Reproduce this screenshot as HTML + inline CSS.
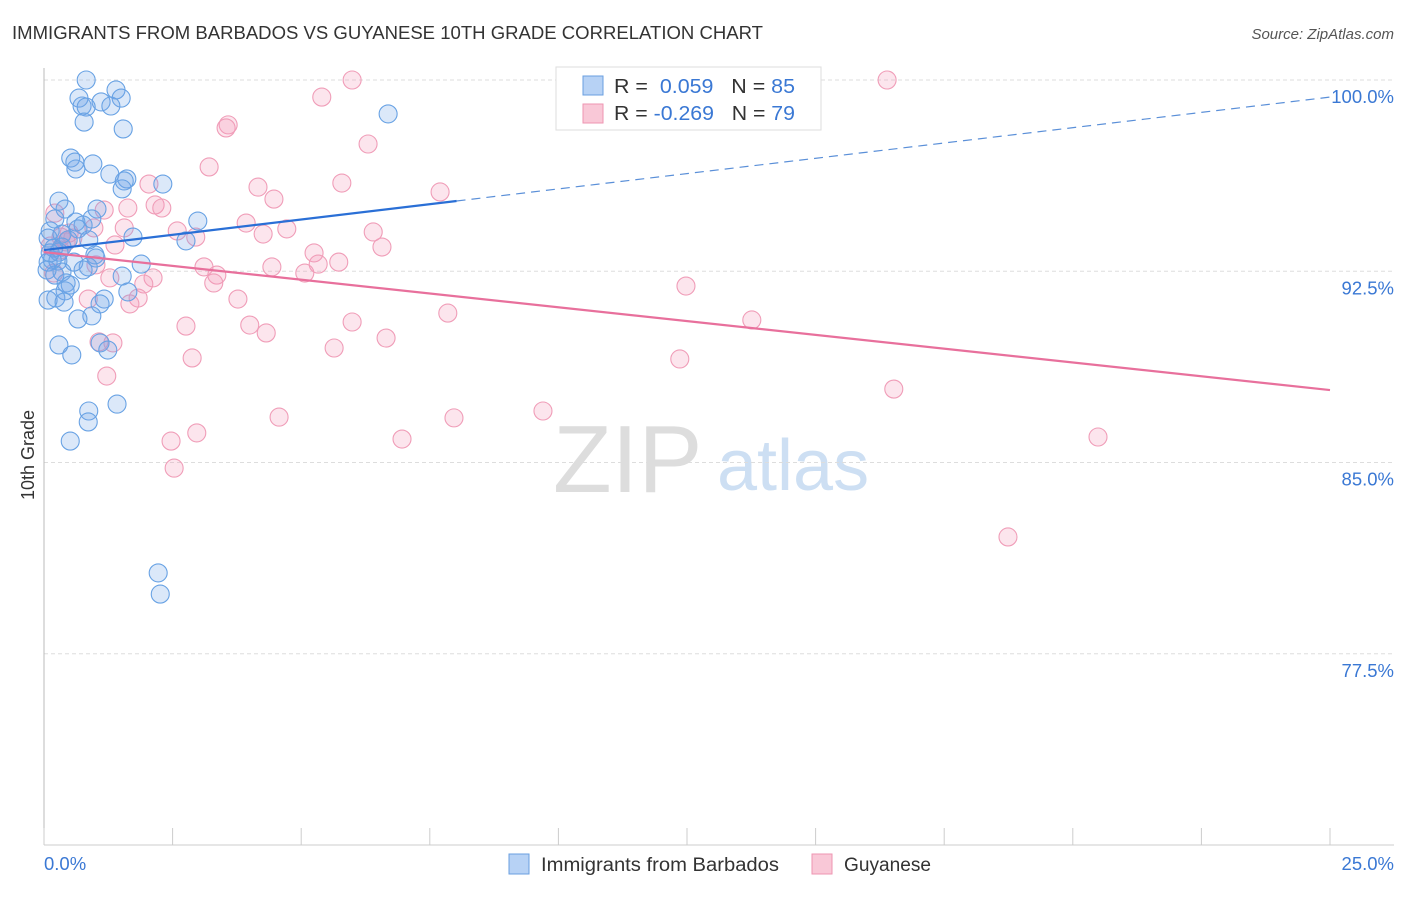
<!DOCTYPE html>
<html><head><meta charset="utf-8"><style>
body{margin:0;background:#fff;font-family:"Liberation Sans",sans-serif;}
svg text{font-family:"Liberation Sans",sans-serif;}
</style></head><body>
<svg width="1406" height="892" viewBox="0 0 1406 892">
<text x="12" y="39" font-size="18" fill="#333" textLength="751" lengthAdjust="spacingAndGlyphs">IMMIGRANTS FROM BARBADOS VS GUYANESE 10TH GRADE CORRELATION CHART</text>
<text x="1394" y="39" font-size="15" fill="#555" font-style="italic" text-anchor="end">Source: ZipAtlas.com</text>
<g>
<text x="553" y="492" font-size="96" font-family="Liberation Serif" fill="#ddd">ZIP</text>
<text x="717" y="490" font-size="72" fill="#cddff3">atlas</text>
</g>
<g id="grid"></g>
<g id="axes"></g>
<g id="marks"></g>
<g id="trends"></g>
<text transform="translate(34,455) rotate(-90)" font-size="18" fill="#333" text-anchor="middle">10th Grade</text>
<text x="44" y="870" font-size="18.5" fill="#3a78d4">0.0%</text>
<text x="1394" y="870" font-size="18.5" fill="#3a78d4" text-anchor="end">25.0%</text>
<g>
<rect x="556" y="67" width="265" height="63" fill="#fff" stroke="#ddd"/>
<rect x="583" y="76" width="20" height="19" fill="#b7d2f5" stroke="#6a9fe0"/>
<rect x="583" y="104" width="20" height="19" fill="#f9c8d7" stroke="#ee95b2"/>
<text x="614" y="93" font-size="20" fill="#333" textLength="181" lengthAdjust="spacingAndGlyphs">R = <tspan fill="#3a78d4">&#160;0.059</tspan>&#160;&#160;&#160;N = <tspan fill="#3a78d4">85</tspan></text>
<text x="614" y="120" font-size="20" fill="#333" textLength="181" lengthAdjust="spacingAndGlyphs">R = <tspan fill="#3a78d4">-0.269</tspan>&#160;&#160;&#160;N = <tspan fill="#3a78d4">79</tspan></text>
</g>
<g>
<rect x="509" y="854" width="20" height="20" fill="#b7d2f5" stroke="#6a9fe0"/>
<text x="541" y="871" font-size="19" fill="#333" textLength="238" lengthAdjust="spacingAndGlyphs">Immigrants from Barbados</text>
<rect x="812" y="854" width="20" height="20" fill="#f9c8d7" stroke="#ee95b2"/>
<text x="844" y="871" font-size="19" fill="#333" textLength="87" lengthAdjust="spacingAndGlyphs">Guyanese</text>
</g>
</svg>
<script>
const yTicks=[100,92.5,85,77.5];
const yTickLabels=["100.0%","92.5%","85.0%","77.5%"];
const xTicks=[0,2.5,5,7.5,10,12.5,15,17.5,20,22.5,25];
const blueX=[0.82,1.40,0.68,1.50,1.11,0.74,1.30,0.82,0.78,6.69,1.54,0.52,0.60,0.95,0.62,1.28,1.61,1.56,2.31,1.52,0.29,0.41,1.03,0.21,0.62,0.93,2.99,0.76,0.12,0.35,0.66,0.08,0.47,0.87,1.73,2.76,0.19,0.29,0.99,1.01,0.08,0.27,0.58,1.89,0.86,0.76,0.35,0.21,1.52,0.43,0.51,0.41,0.23,0.08,0.39,1.63,1.17,1.09,0.93,0.66,0.29,0.54,1.09,1.24,1.42,0.87,0.86,0.51,2.22,2.26,0.16,0.35,0.12,0.06];
const blueY=[100.0,99.61,99.29,99.29,99.14,98.98,98.98,98.94,98.35,98.67,98.08,96.94,96.78,96.71,96.51,96.31,96.12,96.04,95.92,95.73,95.25,94.94,94.94,94.55,94.43,94.55,94.47,94.31,94.08,93.96,94.16,93.80,93.73,93.73,93.84,93.69,93.41,93.25,93.14,93.02,92.86,92.90,92.86,92.78,92.67,92.55,92.47,92.35,92.31,92.04,91.96,91.73,91.45,91.37,91.29,91.69,91.41,91.22,90.75,90.63,89.61,89.22,89.69,89.41,87.29,87.02,86.59,85.84,80.67,79.84,92.94,93.45,93.22,92.55];
const pinkX=[5.99,16.39,5.40,3.58,3.54,6.30,3.21,4.16,2.04,5.79,7.70,4.47,2.16,2.29,1.63,1.17,0.21,3.93,2.59,1.56,0.97,0.49,0.33,2.95,4.26,4.72,6.40,1.38,6.57,5.25,5.73,5.33,3.11,1.01,0.19,4.43,5.07,3.36,3.30,2.12,1.28,1.94,0.86,1.83,1.67,3.77,2.76,4.00,4.32,5.99,7.85,12.48,13.76,1.34,1.07,6.65,5.64,2.88,12.36,1.22,16.52,4.57,7.97,9.70,2.47,2.97,6.96,2.53,20.49,18.74,0.31,0.56,0.43,0.12];
const pinkY=[100.0,100.0,99.33,98.24,98.12,97.49,96.59,95.80,95.92,95.96,95.61,95.33,95.10,94.98,94.98,94.90,94.78,94.39,94.08,94.20,94.20,94.00,93.84,93.84,93.96,94.16,94.04,93.53,93.45,93.22,92.86,92.78,92.67,92.75,92.43,92.67,92.43,92.35,92.04,92.24,92.24,92.00,91.41,91.45,91.22,91.41,90.35,90.39,90.08,90.51,90.86,91.92,90.59,89.69,89.73,89.88,89.49,89.10,89.06,88.39,87.88,86.78,86.75,87.02,85.84,86.16,85.92,84.78,86.00,82.08,93.33,93.80,93.65,93.49];
const blueTrend=[93.33,99.33];
const pinkTrend=[93.25,87.84];
const blueSolidEnd=8.02;

const NS="http://www.w3.org/2000/svg";
const X0=44,X1=1330,Y0=845,Y1=80;
function sx(v){return X0+(v-0)/25*(X1-X0);}
function sy(v){return Y0-(v-70)/30*(Y0-Y1);}
function mk(tag,attrs,parent){const e=document.createElementNS(NS,tag);for(const k in attrs)e.setAttribute(k,attrs[k]);document.getElementById(parent).appendChild(e);return e;}

yTicks.forEach((t,i)=>{
  const l=mk('line',{x1:X0,x2:1394,y1:sy(t),y2:sy(t),stroke:'#ddd','stroke-dasharray':'4,3'},'grid');
  
  
  const tx=mk('text',{x:1394,y:sy(t)+23,'font-size':18.5,fill:'#3a78d4','text-anchor':'end'},'grid');
  tx.textContent=yTickLabels[i];
  
  
});
const ax=mk('line',{x1:X0,x2:1394,y1:Y0,y2:Y0,stroke:'#ccc'},'axes');


const ay=mk('line',{x1:X0,x2:X0,y1:68,y2:Y0,stroke:'#bbb'},'axes');


xTicks.forEach(t=>{
  const l=mk('line',{x1:sx(t),x2:sx(t),y1:828,y2:Y0,stroke:'#ccc'},'axes');
  
  
});
pinkX.forEach((v,i)=>{
  const c=mk('circle',{cx:sx(v),cy:sy(pinkY[i]),r:9,fill:'rgba(242,150,182,0.25)',stroke:'#f09db8','stroke-width':1.1},'marks');
  
  
});
blueX.forEach((v,i)=>{
  const c=mk('circle',{cx:sx(v),cy:sy(blueY[i]),r:9,fill:'rgba(110,165,232,0.25)',stroke:'#68a2e4','stroke-width':1.1},'marks');
  
  
});
function by(x){return blueTrend[0]+(blueTrend[1]-blueTrend[0])*x/25;}
const b1=mk('line',{x1:sx(0),y1:sy(by(0)),x2:sx(blueSolidEnd),y2:sy(by(blueSolidEnd)),stroke:'#2a6fd6','stroke-width':2.2},'trends');


const b2=mk('line',{x1:sx(blueSolidEnd),y1:sy(by(blueSolidEnd)),x2:sx(25),y2:sy(by(25)),stroke:'#5a8fd8','stroke-width':1.2,'stroke-dasharray':'9,6'},'trends');


const p1=mk('line',{x1:sx(0),y1:sy(pinkTrend[0]),x2:sx(25),y2:sy(pinkTrend[1]),stroke:'#e8709c','stroke-width':2.2},'trends');


</script>
</body></html>
